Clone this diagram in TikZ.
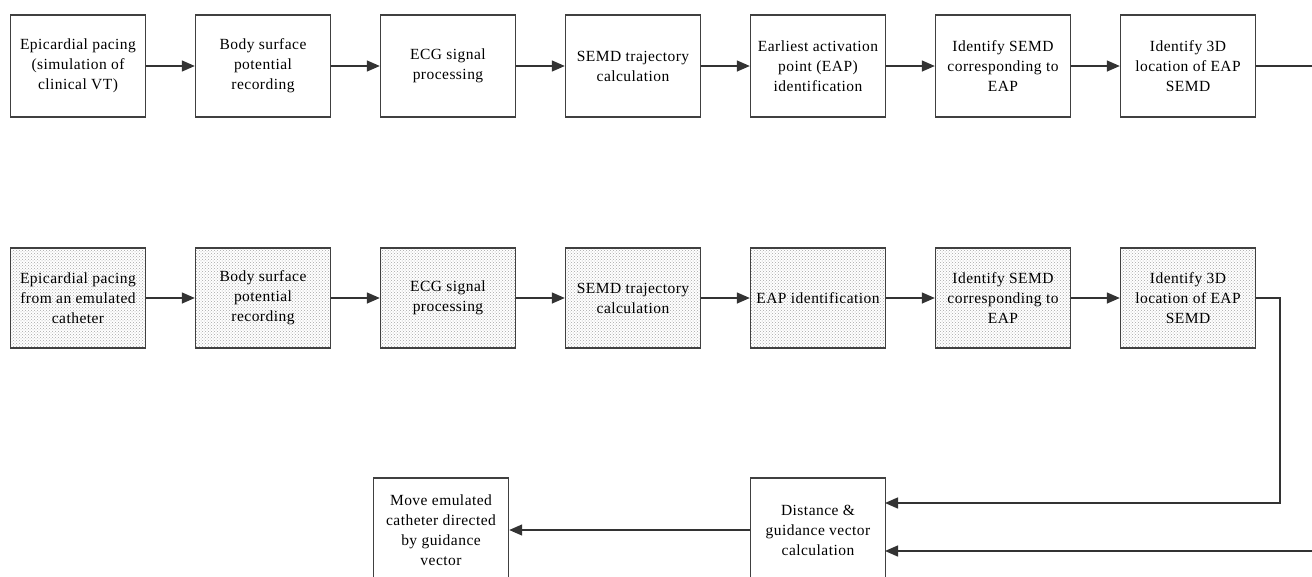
\documentclass[tikz,border=0pt]{standalone}
\usepackage{fontspec}
\setmainfont{Liberation Serif}[LetterSpace=3]
\usetikzlibrary{arrows.meta,patterns}
\tikzset{
  box/.style={draw=black!75, line width=1.4pt, minimum width=135pt, minimum height=102pt, align=center, inner sep=0pt, font=\fontsize{15.5}{20}\selectfont},
  shaded/.style={box, minimum height=100pt, preaction={fill=white}, pattern=crosshatch dots, pattern color=black!35},
  arr/.style={draw=black!80, line width=1.4pt, -{Triangle[length=13pt,width=11pt]}},
  ln/.style={draw=black!80, line width=1.4pt}
}
\begin{document}
\begin{tikzpicture}[x=1pt,y=-1pt]
\useasboundingbox (0,0) rectangle (1312,576);
\begin{scope}
\clip (0,0) rectangle (1312,576);
% row 1
\node[box] (a1) at (78,66) {Epicardial pacing\\(simulation of\\clinical VT)};
\node[box] (a2) at (263,66) {Body surface\\potential\\recording};
\node[box] (a3) at (448,66) {ECG signal\\processing};
\node[box] (a4) at (633,66) {SEMD trajectory\\calculation};
\node[box] (a5) at (818,66) {Earliest activation\\point (EAP)\\identification};
\node[box] (a6) at (1003,66) {Identify SEMD\\corresponding to\\EAP};
\node[box] (a7) at (1188,66) {Identify 3D\\location of EAP\\SEMD};
\coordinate (ae) at (1312,66);
% row 2
\node[shaded] (b1) at (78,298) {Epicardial pacing\\from an emulated\\catheter};
\node[shaded] (b2) at (263,298) {Body surface\\potential\\recording};
\node[shaded] (b3) at (448,298) {ECG signal\\processing};
\node[shaded] (b4) at (633,298) {SEMD trajectory\\calculation};
\node[shaded] (b5) at (818,298) {EAP identification};
\node[shaded] (b6) at (1003,298) {Identify SEMD\\corresponding to\\EAP};
\node[shaded] (b7) at (1188,298) {Identify 3D\\location of EAP\\SEMD};
\coordinate (bc) at (1280,298);
% row 3
\node[box, minimum height=104pt] (d) at (818,530) {Distance \&\\guidance vector\\calculation};
\node[box, minimum height=104pt] (m) at (441,530) {Move emulated\\catheter directed\\by guidance\\vector};
\coordinate (din1) at (885,503);
\coordinate (din2) at (885,551);
\coordinate (dc) at (1280,503);
\coordinate (de) at (1312,551);
% connectors
\foreach \i/\j in {1/2,2/3,3/4,4/5,5/6,6/7}{
  \draw[arr] (a\i.east) -- (a\j.west);
  \draw[arr] (b\i.east) -- (b\j.west);
}
\draw[ln] (a7.east) -- (ae);
\draw[arr] (b7.east) -- (bc) -- (dc) -- (din1);
\draw[arr] (de) -- (din2);
\draw[arr] (d.west) -- (m.east);
\end{scope}
\end{tikzpicture}
\end{document}
